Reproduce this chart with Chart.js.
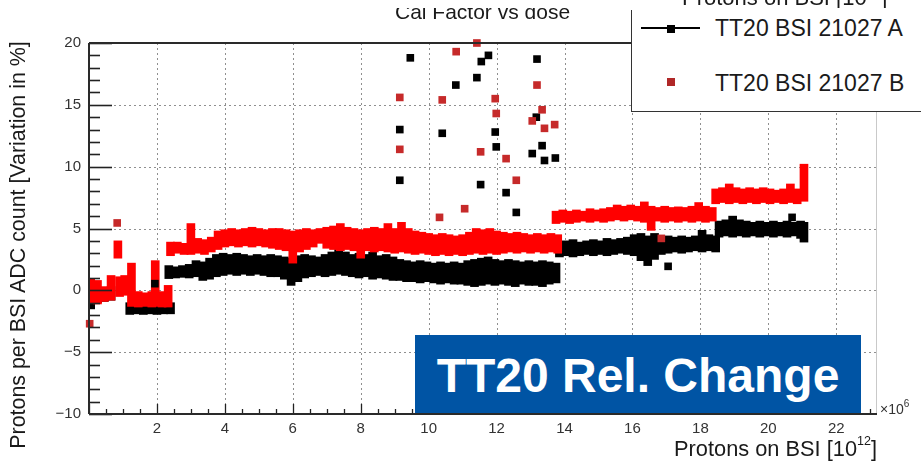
<!DOCTYPE html>
<html>
<head>
<meta charset="utf-8">
<script src="https://cdn.jsdelivr.net/npm/chart.js@4.4.1/dist/chart.umd.min.js"></script>
<style>
html,body{margin:0;padding:0;background:#fff;}
#wrap{position:relative;width:921px;height:462px;overflow:hidden;font-family:"Liberation Sans",Arial,Helvetica,sans-serif;color:#1a1a1a;}
#c{position:absolute;left:0;top:0;}
.abs{position:absolute;white-space:nowrap;}
</style>
</head>
<body>
<div id="wrap">
<canvas id="c" width="921" height="462"></canvas>

<div class="abs" id="title" style="left:395px;top:0px;height:30px;font-size:21px;line-height:21px;"><span style="position:relative;top:0.7px;">Cal Factor vs dose</span></div>
<div class="abs" style="left:380px;top:0;width:541px;height:8px;background:#fff;overflow:hidden;">
  <div class="abs" style="left:302px;top:-12.6px;font-size:22px;line-height:22px;">Protons on BSI [10<span style="font-size:13px;position:relative;top:-9px;">12</span>]</div>
</div>

<div class="abs" id="legend" style="left:631px;top:10px;width:310px;height:101px;background:#fff;border-left:1.5px solid #333;border-bottom:1.5px solid #333;"></div>
<div class="abs" style="left:641px;top:27px;width:59px;height:2px;background:#000;"></div>
<div class="abs" style="left:667px;top:24.5px;width:8px;height:8px;background:#000;"></div>
<div class="abs" style="left:715px;top:17.2px;font-size:23px;line-height:23px;">TT20 BSI 21027 A</div>
<div class="abs" style="left:667px;top:78px;width:8px;height:8px;background:#b02828;"></div>
<div class="abs" style="left:715px;top:72.2px;font-size:23px;line-height:23px;">TT20 BSI 21027 B</div>

<div class="abs" style="left:415px;top:335px;width:446px;height:78px;background:#0054a4;">
  <div class="abs" style="left:0;top:17px;width:446px;height:48px;line-height:48px;font-size:48px;font-weight:bold;color:#fff;text-align:center;">TT20 Rel. Change</div>
</div>

<div class="abs" style="left:-212px;top:234px;width:460px;height:22px;line-height:22px;font-size:21.4px;text-align:center;transform:rotate(-90deg);transform-origin:230px 11px;">Protons per BSI ADC count [Variation in %]</div>
<div class="abs" style="right:44px;top:438.4px;font-size:21.8px;line-height:21.8px;">Protons on BSI [10<span style="font-size:12.5px;position:relative;top:-11px;">12</span>]</div>
<div class="abs" style="left:880px;top:402px;font-size:14px;line-height:14px;color:#333;">×10<span style="font-size:10px;position:relative;top:-7px;">6</span></div>
</div>

<script>
// ---------- axis definitions ----------
const X_MIN = 0, X_MAX = 23.2, Y_MIN = -10, Y_MAX = 20;
const xTickValues = [2, 4, 6, 8, 10, 12, 14, 16, 18, 20, 22];
const xTickLabels = ['2', '4', '6', '8', '10', '12', '14', '16', '18', '20', '22'];
const yTickValues = [-10, -5, 0, 5, 10, 15, 20];
const yTickLabels = ['\u221210', '\u22125', '0', '5', '10', '15', '20'];
const yGridValues = [-5, 0, 5, 10, 15];

// ---------- series A (TT20 BSI 21027 A, black): dense band, per-column extent ----------
const bandAx = [
  0.05, 0.25, 0.45, 0.65,
  1.2, 1.4, 1.6, 1.8, 2.0, 2.2, 2.4,
  2.35, 2.55, 2.75, 2.95, 3.15,
  3.35, 3.55, 3.75, 3.95, 4.15, 4.35, 4.55, 4.75, 4.95, 5.15, 5.35, 5.55, 5.75, 5.95, 6.15, 6.35, 6.55, 6.75, 6.95, 7.15,
  7.35, 7.55, 7.75, 7.95, 8.15, 8.35, 8.55, 8.75, 8.95, 9.15, 9.35, 9.55, 9.75, 9.95, 10.15, 10.35, 10.55, 10.75, 10.95,
  11.15, 11.35, 11.55, 11.75, 11.95, 12.15, 12.35, 12.55, 12.75, 12.95, 13.15, 13.35, 13.55, 13.75,
  13.85, 14.05, 14.25, 14.45, 14.65, 14.85, 15.05, 15.25, 15.45, 15.65, 15.85, 16.05, 16.25, 16.45, 16.65, 16.85,
  17.05, 17.25, 17.45, 17.65, 17.85, 18.05, 18.25, 18.45,
  18.55, 18.75, 18.95, 19.15, 19.35, 19.55, 19.75, 19.95, 20.15, 20.35, 20.55, 20.75, 20.95, 21.05
];
const bandAlo = [
  -1.5, -1.0, -0.9, -0.8,
  -1.95, -1.9, -1.95, -1.9, -1.95, -1.9, -1.9,
  0.95, 1.0, 1.05, 1.0, 1.1,
  0.8, 0.9, 1.1, 1.2, 1.3, 1.2, 1.3, 1.2, 1.3, 1.2, 1.1, 1.1, 0.9, 0.4, 0.7, 1.0, 1.1, 1.2, 1.1, 1.2,
  1.3, 1.2, 1.1, 1.0, 1.1, 0.9, 1.0, 0.9, 0.8, 0.8, 0.7, 0.7, 0.6, 0.7, 0.6, 0.5, 0.6, 0.5, 0.5,
  0.4, 0.3, 0.4, 0.5, 0.4, 0.5, 0.4, 0.3, 0.5, 0.4, 0.4, 0.3, 0.5, 0.6,
  2.7, 2.8, 2.7, 2.8, 2.9, 2.8, 2.9, 2.8, 2.9, 3.0, 2.9, 2.8, 2.4, 2.0, 2.5, 2.9,
  3.0, 3.1, 3.0, 3.1, 3.2, 3.1, 3.2, 3.1,
  4.3, 4.4, 4.3, 4.4, 4.3, 4.4, 4.3, 4.4, 4.3, 4.4, 4.3, 4.4, 4.2, 3.9
];
const bandAhi = [
  0.2, 0.2, 0.1, 0.3,
  -1.0, -1.0, -1.0, -1.0, -1.0, -1.0, -1.0,
  2.0, 1.9, 2.0, 2.1, 2.4,
  2.3, 2.6, 2.9, 3.0, 2.9, 3.0, 2.9, 2.8, 2.9, 2.8, 2.9, 2.8, 2.7, 2.6, 2.8, 2.9, 2.8, 2.7, 2.9, 3.1,
  3.3, 3.1, 2.9, 3.0, 2.9, 3.1, 2.8, 2.9, 2.7, 2.5, 2.4, 2.3, 2.4, 2.3, 2.2, 2.3, 2.2, 2.3, 2.2,
  2.4, 2.5, 2.6, 2.7, 2.5, 2.4, 2.5, 2.4, 2.3, 2.4, 2.3, 2.4, 2.3, 2.2,
  3.9, 4.0, 4.1, 3.9, 4.0, 4.1, 4.0, 4.2, 4.1, 4.2, 4.3, 4.5, 4.6, 4.4, 4.6, 4.3,
  4.4, 4.3, 4.4, 4.3, 4.4, 4.85, 4.5, 4.4,
  5.6, 5.7, 6.0, 5.7, 5.6, 5.5, 5.6, 5.5, 5.6, 5.5, 5.6, 5.5, 5.6, 5.5
];
// isolated A points
const ptsAx = [9.15, 9.15, 9.46, 10.4, 10.8, 11.42, 11.55, 11.76, 11.96, 11.99, 11.53, 12.28, 12.58, 13.19, 13.17, 13.34, 13.05, 13.41, 13.73, 17.05, 20.7, 1.94];
const ptsAy = [13.0, 8.9, 18.8, 12.7, 16.6, 17.2, 18.5, 19.0, 12.8, 11.6, 8.55, 7.9, 6.3, 18.7, 14.0, 11.7, 11.06, 10.5, 10.7, 1.94, 5.9, 0.54];

// ---------- series B (TT20 BSI 21027 B, red) ----------
const bandBx = [
  0.05, 0.25, 0.45, 0.65, 0.85, 0.9, 1.05, 1.25, 1.45, 1.65, 1.85, 1.95, 2.15, 2.33,
  2.4, 2.6, 2.8, 3.0, 3.2, 3.4, 3.6, 3.8,
  4.0, 4.2, 4.4, 4.6, 4.8, 5.0, 5.2, 5.4, 5.6, 5.8, 6.0, 6.2, 6.4, 6.6, 6.8, 7.0, 7.2, 7.4, 7.6, 7.8,
  8.0, 8.2, 8.4, 8.6, 8.8, 9.0, 9.2, 9.4, 9.6, 9.8, 10.0, 10.2, 10.4, 10.6, 10.8, 11.0, 11.2, 11.4, 11.6, 11.8,
  12.0, 12.2, 12.4, 12.6, 12.8, 13.0, 13.2, 13.4, 13.6, 13.8,
  13.75, 13.95, 14.15, 14.35, 14.55, 14.75, 14.95, 15.15, 15.35, 15.55, 15.75, 15.95, 16.15, 16.35, 16.55, 16.75,
  16.95, 17.15, 17.35, 17.55, 17.75, 17.95, 18.15, 18.35,
  18.45, 18.65, 18.85, 19.05, 19.25, 19.45, 19.65, 19.85, 20.05, 20.25, 20.45, 20.65, 20.85, 21.05
];
const bandBlo = [
  -1.0, -1.1, -0.9, -0.8, 2.6, -0.5, -0.4, -1.3, -1.35, -1.3, -1.35, -1.3, -1.35, -1.35,
  2.8, 3.0, 2.9, 2.9, 3.0, 2.9, 3.1, 3.3,
  3.5, 3.6, 3.5, 3.6, 3.5, 3.6, 3.5, 3.4, 3.3, 3.2, 2.2, 3.1, 3.3, 3.5, 3.8, 3.4, 3.3, 3.2, 3.3, 3.2,
  2.6, 3.2, 3.1, 3.2, 3.1, 3.0, 3.1, 3.0, 2.9, 3.0, 2.9, 2.8, 2.9, 2.8, 2.9, 2.8, 2.9, 3.0, 2.9, 3.0,
  2.9, 3.0, 3.1, 3.0, 3.1, 3.0, 3.1, 3.0, 3.1, 3.0,
  5.4, 5.5, 5.4, 5.5, 5.6, 5.5, 5.6, 5.5, 5.6, 5.7, 5.6, 5.7, 5.6, 5.5, 4.85, 5.6,
  5.5, 5.6, 5.5, 5.6, 5.5, 5.6, 5.5, 5.6,
  7.0, 7.1, 7.0, 7.1, 7.0, 7.1, 7.0, 7.1, 7.0, 7.1, 7.0, 7.1, 7.0, 7.2
];
const bandBhi = [
  0.9, 0.8, 0.3, 1.2, 4.0, 1.1, 1.2, 2.2, -0.1, -0.2, -0.1, 2.4, -0.1, 0.4,
  3.9, 3.9, 3.8, 5.4, 4.2, 4.1, 4.3, 4.8,
  4.9, 5.0, 4.9, 5.0, 5.1, 5.0, 4.9, 5.0, 5.0, 4.9, 4.8, 4.9, 5.0, 4.9, 5.0, 5.1, 5.2, 5.4, 5.1, 5.0,
  4.9, 5.0, 5.1, 5.0, 5.4, 5.0, 5.5, 5.0, 4.8, 4.7, 4.6, 4.5, 4.6, 4.5, 4.4, 4.5, 4.7, 5.0, 4.9, 5.0,
  4.8, 4.7, 4.6, 4.7, 4.6, 4.5, 4.6, 4.5, 4.6, 4.5,
  6.4, 6.5, 6.4, 6.5, 6.4, 6.6, 6.5, 6.6, 6.7, 6.9, 6.8, 6.9, 6.8, 7.15, 6.8, 6.7,
  6.8, 6.7, 6.75, 6.7, 6.8, 7.1, 6.8, 6.7,
  8.2, 8.3, 8.6, 8.3, 8.2, 8.3, 8.2, 8.3, 8.2, 8.1, 8.2, 8.6, 8.2, 10.2
];
// isolated B points
const ptsBx = [9.15, 9.15, 10.4, 10.81, 11.42, 11.53, 11.96, 11.99, 12.28, 12.58, 11.06, 10.32, 13.19, 13.34, 13.05, 13.41, 13.71, 0.83, 0.02, 16.85];
const ptsBy = [15.6, 11.4, 15.4, 19.3, 20.0, 11.2, 15.5, 14.3, 10.65, 8.9, 6.6, 5.9, 16.6, 14.6, 13.7, 13.1, 13.4, 5.45, -2.7, 4.2];

// ---------- build library data ----------
const bandA = bandAx.map((x, i) => ({x: x, y: [bandAlo[i], bandAhi[i]]}));
const bandB = bandBx.map((x, i) => ({x: x, y: [bandBlo[i], bandBhi[i]]}));
const pointsA = ptsAx.map((x, i) => ({x: x, y: ptsAy[i]}));
const pointsB = ptsBx.map((x, i) => ({x: x, y: ptsBy[i]}));

const FONT = "'Liberation Sans', Arial, Helvetica, sans-serif";

const framePlugin = {
  id: 'rootFrame',
  beforeDatasetsDraw(chart) {
    const {ctx, chartArea: a, scales: {x, y}} = chart;
    ctx.save();
    ctx.strokeStyle = '#8f8f8f';
    ctx.lineWidth = 1;
    ctx.setLineDash([2, 3]);
    xTickValues.forEach(v => {
      const px = Math.round(x.getPixelForValue(v)) + 0.5;
      ctx.beginPath(); ctx.moveTo(px, a.top); ctx.lineTo(px, a.bottom); ctx.stroke();
    });
    yGridValues.forEach(v => {
      const py = Math.round(y.getPixelForValue(v)) + 0.5;
      ctx.beginPath(); ctx.moveTo(a.left, py); ctx.lineTo(a.right, py); ctx.stroke();
    });
    ctx.setLineDash([]);
    ctx.strokeStyle = '#c9c9c9';
    ctx.beginPath(); ctx.moveTo(a.right - 0.5, a.top); ctx.lineTo(a.right - 0.5, a.bottom); ctx.stroke();
    ctx.restore();
  },
  afterDatasetsDraw(chart) {
    const {ctx, chartArea: a, scales: {x, y}} = chart;
    ctx.save();
    ctx.setLineDash([]);
    ctx.strokeStyle = '#222';
    ctx.lineWidth = 1.6;
    for (let v = Y_MIN; v <= Y_MAX; v += 1) {
      const py = Math.round(y.getPixelForValue(v)) + 0.5;
      const len = (v % 5 === 0) ? 23 : 11;
      ctx.beginPath(); ctx.moveTo(a.left, py); ctx.lineTo(a.left + len, py); ctx.stroke();
    }
    ctx.lineWidth = 1.3;
    for (let v = X_MIN; v <= X_MAX + 1e-9; v += 0.5) {
      const px = Math.round(x.getPixelForValue(v)) + 0.5;
      const len = (Math.abs(v % 2) < 1e-9) ? 10 : 5;
      ctx.beginPath(); ctx.moveTo(px, a.bottom); ctx.lineTo(px, a.bottom - len); ctx.stroke();
    }
    ctx.strokeStyle = '#2a2a2a';
    ctx.lineWidth = 2;
    ctx.beginPath();
    ctx.moveTo(a.left, a.top); ctx.lineTo(a.right, a.top);
    ctx.moveTo(a.left, a.top); ctx.lineTo(a.left, a.bottom);
    ctx.moveTo(a.left, a.bottom); ctx.lineTo(a.right, a.bottom);
    ctx.stroke();
    ctx.restore();
  }
};

new Chart(document.getElementById('c'), {
  type: 'bar',
  data: {
    datasets: [
      {type: 'scatter', label: 'TT20 BSI 21027 B', data: pointsB, order: 1, showLine: false,
       pointStyle: 'rect', pointRadius: 5.4, backgroundColor: '#c62a2a', borderWidth: 0, clip: false},
      {type: 'scatter', label: 'TT20 BSI 21027 A', data: pointsA, order: 2, showLine: false,
       pointStyle: 'rect', pointRadius: 5.4, backgroundColor: '#000', borderWidth: 0, clip: false},
      {type: 'bar', label: 'TT20 BSI 21027 B', data: bandB, order: 3, backgroundColor: '#ff0000',
       borderWidth: 0, barThickness: 8},
      {type: 'bar', label: 'TT20 BSI 21027 A', data: bandA, order: 4, backgroundColor: '#000000',
       borderWidth: 0, barThickness: 8}
    ]
  },
  options: {
    responsive: false,
    animation: false,
    devicePixelRatio: 1,
    events: [],
    layout: {padding: {top: 43, right: 44, left: 0, bottom: 0}},
    plugins: {legend: {display: false}, title: {display: false}, tooltip: {enabled: false}},
    scales: {
      x: {
        type: 'linear', min: X_MIN, max: X_MAX, offset: false, stacked: true,
        grid: {display: false, drawTicks: false}, border: {display: false},
        afterBuildTicks: s => { s.ticks = xTickValues.map(v => ({value: v})); },
        afterFit: s => { s.height = 48; },
        ticks: {autoSkip: false, maxRotation: 0, padding: 6, color: '#333',
                font: {family: FONT, size: 15},
                callback: (v, i) => xTickLabels[i]}
      },
      y: {
        type: 'linear', min: Y_MIN, max: Y_MAX, stacked: false,
        grid: {display: false, drawTicks: false}, border: {display: false},
        afterBuildTicks: s => { s.ticks = yTickValues.map(v => ({value: v})); },
        afterFit: s => { s.width = 89; },
        ticks: {autoSkip: false, padding: 8, color: '#333',
                font: {family: FONT, size: 15},
                callback: (v, i) => yTickLabels[i]}
      }
    }
  },
  plugins: [framePlugin]
});
</script>
</body>
</html>
